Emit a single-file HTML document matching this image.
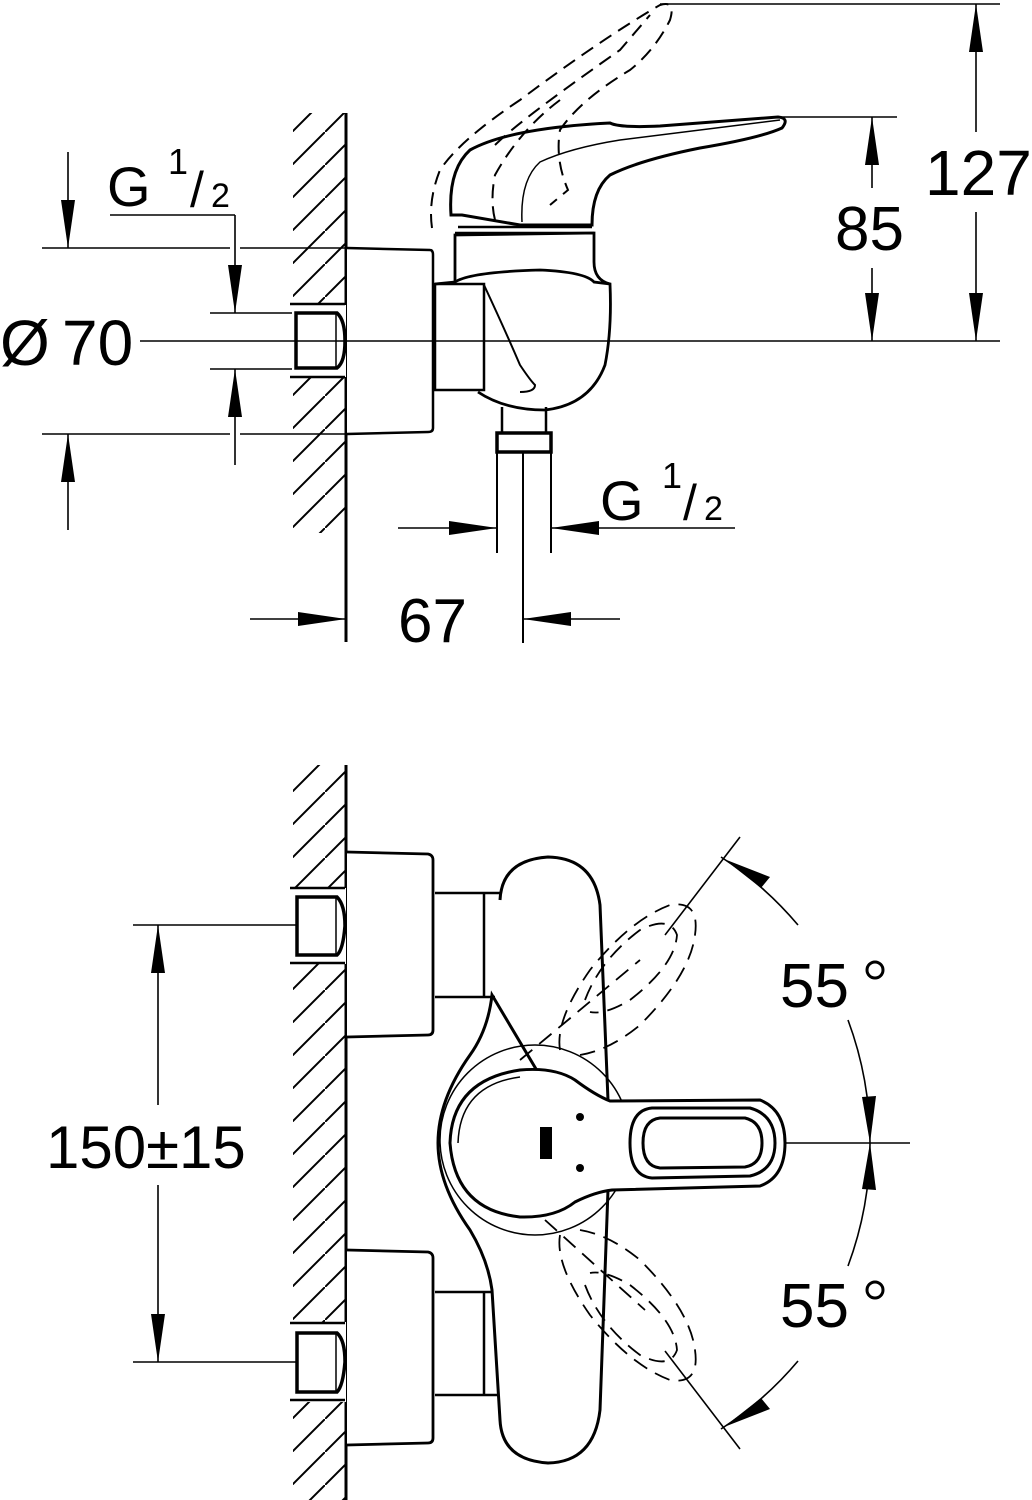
<!DOCTYPE html>
<html><head><meta charset="utf-8"><style>
html,body{margin:0;padding:0;background:#fff;overflow:hidden;width:1032px;height:1500px}
svg{display:block}
text{font-family:"Liberation Sans",Arial,sans-serif;fill:#000}
</style></head><body>
<svg width="1032" height="1500" viewBox="0 0 1032 1500" xmlns="http://www.w3.org/2000/svg">
<defs>
<pattern id="hp" patternUnits="userSpaceOnUse" width="33" height="33" x="292" y="0">
<path d="M-3,36 L36,-3" stroke="#000" stroke-width="2"/>
</pattern>
</defs>

<rect x="293" y="113" width="52" height="420" fill="url(#hp)"/>
<rect x="293" y="765" width="52" height="735" fill="url(#hp)"/>

<g fill="none" stroke="#000">
<line x1="346" y1="113" x2="346" y2="642" stroke-width="3"/>
<line x1="346" y1="765" x2="346" y2="1500" stroke-width="3"/>

<rect x="290" y="305" width="56" height="72" fill="#fff" stroke="none"/>
<line x1="290" y1="304" x2="345" y2="304" stroke-width="2.5"/>
<line x1="290" y1="377" x2="345" y2="377" stroke-width="2.5"/>
<path d="M296,313 H337 Q345,320 345,341 Q345,362 337,368 H296 Z" fill="#fff" stroke-width="3.5"/>
<line x1="336" y1="314" x2="336" y2="367" stroke-width="1.5"/>

<path d="M347,248 L430,250 Q433,250 433,255 L433,428 Q433,432 428,432 L347,434" stroke-width="2.5" fill="#fff"/>
<path d="M435,284 H484 V390 H435 Z" stroke-width="2.5"/>
<path d="M435,284 L455,282 Q470,272 540,270 Q585,272 594,282 L610,284 Q612,330 605,365 Q590,405 545,410 Q505,410 478,392" stroke-width="2.8"/>
<path d="M484,285 Q505,330 520,365 Q530,380 535,385 Q535,392 520,392" stroke-width="2"/>
<path d="M455,282 Q455,270 455,235 L594,233 L594,262 Q594,280 610,284" stroke-width="2.8"/>
<line x1="455" y1="233" x2="594" y2="233" stroke-width="2.5"/>
<line x1="458" y1="227" x2="592" y2="227" stroke-width="2.5"/>
<path d="M451,215 Q448,170 470,150 Q510,128 610,123 Q620,128 660,126 L778,117 Q790,118 782,128 Q760,138 700,148 Q640,160 610,175 Q592,190 592,225 L520,225 L462,215 Z" stroke-width="3"/>
<path d="M522,222 Q520,180 540,162 Q570,148 620,140 L780,120" stroke-width="1.5"/>
<path d="M432,228 Q428,200 440,170 Q460,140 520,100 Q600,40 660,5 Q676,0 670,20 Q655,50 630,70 Q580,100 560,130 Q555,160 568,190 L550,205" stroke-width="2" stroke-dasharray="14,8"/>
<path d="M495,145 Q520,120 620,50 L650,15" stroke-width="2" stroke-dasharray="14,8"/>
<path d="M495,220 Q490,200 495,175 Q520,130 560,100" stroke-width="2" stroke-dasharray="14,8"/>
<path d="M502,407 V433 M546,407 V433" stroke-width="2.5"/>
<path d="M497,433 H551 V452 H497 Z" stroke-width="3.5" fill="#fff"/>
<line x1="497" y1="452" x2="497" y2="553" stroke-width="2"/>
<line x1="551" y1="452" x2="551" y2="553" stroke-width="2"/>
<line x1="523" y1="452" x2="523" y2="643" stroke-width="2"/>

<g stroke-width="1.6">
<line x1="42" y1="248" x2="230" y2="248"/><line x1="240" y1="248" x2="346" y2="248"/>
<line x1="42" y1="434" x2="230" y2="434"/><line x1="240" y1="434" x2="346" y2="434"/>
<line x1="210" y1="313" x2="292" y2="313"/>
<line x1="210" y1="369" x2="292" y2="369"/>
<line x1="140" y1="341" x2="1000" y2="341"/>
<line x1="68" y1="152" x2="68" y2="248"/>
<line x1="68" y1="434" x2="68" y2="530"/>
<line x1="110" y1="215" x2="235" y2="215"/>
<line x1="235" y1="215" x2="235" y2="313"/>
<line x1="235" y1="369" x2="235" y2="465"/>
<line x1="660" y1="4" x2="1000" y2="4"/>
<line x1="780" y1="117" x2="897" y2="117"/>
<line x1="976" y1="4" x2="976" y2="132"/><line x1="976" y1="212" x2="976" y2="341"/>
<line x1="872" y1="117" x2="872" y2="188"/><line x1="872" y1="268" x2="872" y2="341"/>
<line x1="398" y1="528" x2="497" y2="528"/><line x1="551" y1="528" x2="735" y2="528"/>
<line x1="250" y1="619" x2="346" y2="619"/><line x1="523" y1="619" x2="620" y2="619"/>
</g>
</g>
<g fill="#000">
<polygon points="68,248 61,200 75,200"/>
<polygon points="68,434 61,482 75,482"/>
<polygon points="235,313 228,265 242,265"/>
<polygon points="235,369 228,417 242,417"/>
<polygon points="976,4 969,52 983,52"/>
<polygon points="976,341 969,293 983,293"/>
<polygon points="872,117 865,165 879,165"/>
<polygon points="872,341 865,293 879,293"/>
<polygon points="497,528 449,521 449,535"/>
<polygon points="551,528 599,521 599,535"/>
<polygon points="346,619 298,612 298,626"/>
<polygon points="523,619 571,612 571,626"/>
</g>
<text x="107" y="206" font-size="56">G</text>
<text x="168" y="174" font-size="36">1</text>
<text x="190" y="207" font-size="50">/</text>
<text x="211" y="207" font-size="34">2</text>
<text x="0" y="365" font-size="64">Ø</text>
<text x="62" y="365" font-size="64">70</text>
<text x="925" y="195" font-size="64">127</text>
<text x="835" y="250" font-size="62">85</text>
<text x="600" y="520" font-size="56">G</text>
<text x="662" y="488" font-size="36">1</text>
<text x="683" y="520" font-size="50">/</text>
<text x="704" y="520" font-size="34">2</text>
<text x="398" y="642" font-size="62">67</text>

<g fill="none" stroke="#000">
<rect x="290" y="888" width="56" height="76" fill="#fff" stroke="none"/>
<line x1="290" y1="888" x2="345" y2="888" stroke-width="2.5"/>
<line x1="290" y1="963" x2="345" y2="963" stroke-width="2.5"/>
<path d="M297,897 H337 Q345,905 345,926 Q343,950 337,955 H297 Z" fill="#fff" stroke-width="3.5"/>
<line x1="336" y1="898" x2="336" y2="954" stroke-width="1.5"/>
<rect x="290" y="1322" width="56" height="80" fill="#fff" stroke="none"/>
<line x1="290" y1="1323" x2="345" y2="1323" stroke-width="2.5"/>
<line x1="290" y1="1400" x2="345" y2="1400" stroke-width="2.5"/>
<path d="M297,1333 H337 Q345,1340 345,1362 Q343,1386 337,1392 H297 Z" fill="#fff" stroke-width="3.5"/>
<line x1="336" y1="1334" x2="336" y2="1391" stroke-width="1.5"/>
<path d="M347,852 L428,854 Q433,855 433,860 L433,1030 Q433,1035 428,1035 L347,1037" stroke-width="2.8" fill="#fff"/>
<path d="M347,1250 L428,1252 Q433,1253 433,1258 L433,1438 Q433,1443 428,1443 L347,1445" stroke-width="2.8" fill="#fff"/>
<path d="M435,893 H500 M435,997 H495 M484,893 V997" stroke-width="2.5"/>
<path d="M435,1292 H495 M435,1395 H500 M484,1292 V1395" stroke-width="2.5"/>
<path d="M500,900 Q502,860 548,857 Q594,858 600,905 L608,1100 M608,1190 L600,1410 Q594,1462 548,1463 Q502,1460 500,1420 L492,1290 Q488,1260 470,1230 Q438,1185 438,1143 Q438,1100 470,1055 Q488,1030 492,995 Z" stroke-width="3" fill="#fff"/>
<circle cx="535" cy="1140" r="95" stroke-width="1.5"/>
<g stroke-width="1.8" stroke-dasharray="16,9">
<path d="M560,1050 Q555,1020 590,970 Q630,920 670,905 Q700,900 695,935 Q690,975 640,1025 Q610,1050 580,1055"/>
<path d="M585,1000 Q600,960 640,930 Q670,915 677,935 Q675,965 630,1000 Q605,1015 590,1012"/>
<path d="M560,1235 Q555,1265 590,1315 Q630,1365 670,1380 Q700,1385 695,1350 Q690,1310 640,1260 Q610,1235 580,1230"/>
<path d="M585,1285 Q600,1325 640,1355 Q670,1370 677,1350 Q675,1320 630,1285 Q605,1270 590,1273"/>
<path d="M520,1060 L640,960 M545,1220 L645,1310"/>
</g>
<path d="M610,1101 L760,1100 Q785,1110 785,1143 Q785,1177 760,1186 L612,1190 Q595,1192 575,1202 Q555,1218 520,1217 Q455,1210 450,1143 Q452,1080 520,1070 Q555,1067 575,1080 Q595,1095 610,1101 Z" fill="#fff" stroke-width="3"/>
<path d="M652,1108 H750 Q775,1115 775,1143 Q775,1170 750,1176 L652,1178 Q630,1176 630,1143 Q630,1110 652,1108 Z" stroke-width="3"/>
<path d="M660,1118 H745 Q762,1122 762,1143 Q762,1164 745,1167 L660,1168 Q643,1166 643,1143 Q643,1120 660,1118 Z" stroke-width="3"/>
<path d="M458,1143 Q460,1085 520,1077" stroke-width="1.5"/>
</g>
<rect x="540" y="1127" width="12" height="32" fill="#000"/>
<circle cx="580" cy="1117" r="4" fill="#000"/>
<circle cx="580" cy="1168" r="4" fill="#000"/>

<g fill="none" stroke="#000" stroke-width="1.6">
<line x1="133" y1="925" x2="297" y2="925"/>
<line x1="133" y1="1362" x2="297" y2="1362"/>
<line x1="158" y1="925" x2="158" y2="1105"/>
<line x1="158" y1="1185" x2="158" y2="1362"/>
<line x1="785" y1="1143" x2="910" y2="1143"/>
<line x1="665" y1="935" x2="740" y2="837"/>
<line x1="665" y1="1351" x2="740" y2="1449"/>
<path d="M721,857 A350,350 0 0 1 798,925"/>
<path d="M848,1020 A350,350 0 0 1 870,1143"/>
<path d="M721,1429 A350,350 0 0 0 798,1361"/>
<path d="M848,1266 A350,350 0 0 0 870,1143"/>
<circle cx="875" cy="970" r="8" stroke-width="3"/>
<circle cx="875" cy="1290" r="8" stroke-width="3"/>
</g>
<g fill="#000">
<polygon points="158,925 151,973 165,973"/>
<polygon points="158,1362 151,1314 165,1314"/>
<polygon points="870,1143 862,1097 876,1096"/>
<polygon points="870,1143 862,1189 876,1190"/>
<polygon points="724,859 770,877 761,888"/>
<polygon points="724,1427 770,1409 761,1398"/>
</g>
<text x="46" y="1168" font-size="60">150±15</text>
<text x="780" y="1007" font-size="62">55</text>
<text x="780" y="1327" font-size="62">55</text>
</svg>
</body></html>
